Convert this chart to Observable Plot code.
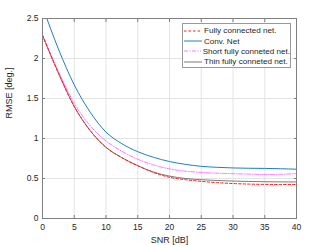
<!DOCTYPE html>
<html><head><meta charset="utf-8">
<script src="https://cdn.jsdelivr.net/npm/d3@7"></script>
<script src="https://cdn.jsdelivr.net/npm/@observablehq/plot@0.6"></script>
<style>
body{margin:0;background:#fff;font-family:"Liberation Sans",Arial,sans-serif;}
#wrap{position:relative;width:327px;height:245px;}
#legend{position:absolute;left:182px;top:23px;width:109px;height:45px;border:0.8px solid #999;background:#fff;font-size:8.1px;color:#262626;box-sizing:border-box;padding-top:1.5px;}
#legend .row{display:flex;align-items:center;height:10.4px;white-space:nowrap;}
#legend svg{margin-left:1px;margin-right:2px;}
</style></head>
<body><div id="wrap"><div id="chart"></div><div id="legend"></div></div>
<script>
const snr = [0, 2.5, 5, 7.5, 10, 12.5, 15, 17.5, 20, 22.5, 25, 27.5, 30, 32.5, 35, 37.5, 40];
const fullyConnected = [2.29, 1.82, 1.40, 1.10, 0.89, 0.76, 0.66, 0.575, 0.515, 0.485, 0.464, 0.448, 0.437, 0.43, 0.426, 0.425, 0.425];
const convNet        = [2.65, 2.12, 1.67, 1.33, 1.08, 0.935, 0.835, 0.765, 0.712, 0.677, 0.652, 0.64, 0.632, 0.628, 0.626, 0.622, 0.616];
const shortFully     = [2.29, 1.84, 1.44, 1.16, 0.97, 0.84, 0.74, 0.67, 0.62, 0.592, 0.576, 0.566, 0.56, 0.555, 0.55, 0.553, 0.562];
const thinFully      = [2.29, 1.82, 1.40, 1.10, 0.89, 0.76, 0.66, 0.58, 0.53, 0.50, 0.485, 0.475, 0.468, 0.463, 0.46, 0.458, 0.457];
const seriesNames = ["Fully connected net.", "Conv. Net", "Short fully conneted net.", "Thin fully conneted net."];
const xTicks = [0, 5, 10, 15, 20, 25, 30, 35, 40];
const yTicks = [0, 0.5, 1, 1.5, 2, 2.5];

const styles = [
  {stroke: "#ff1a1a", dash: "2.5,2", width: 1},
  {stroke: "#1f7fc4", dash: null, width: 1},
  {stroke: "#ff66ff", dash: "4,1.5,1,1.5", width: 0.9},
  {stroke: "#444444", dash: null, width: 0.7}
];
const allSeries = [fullyConnected, convNet, shortFully, thinFully];
const rows = [];
allSeries.forEach((vals, si) => vals.forEach((v, i) => rows.push({snr: snr[i], v, s: si})));

const lineMarks = [3, 2, 1, 0].map(si => Plot.line(rows.filter(d => d.s === si), {
  x: "snr", y: "v", stroke: styles[si].stroke, strokeWidth: styles[si].width,
  strokeDasharray: styles[si].dash, curve: "monotone-x", clip: true
}));

const chart = Plot.plot({
  width: 327, height: 245,
  marginLeft: 42, marginRight: 31, marginTop: 18, marginBottom: 27,
  style: {fontFamily: "Liberation Sans, Arial, sans-serif", fontSize: "8.5px", color: "#262626", background: "#fff"},
  x: {domain: [0, 40], ticks: xTicks},
  y: {domain: [0, 2.5], ticks: yTicks},
  marks: [
    Plot.gridX(xTicks, {stroke: "#e3e3e3", strokeOpacity: 1}),
    Plot.gridY(yTicks, {stroke: "#e3e3e3", strokeOpacity: 1}),
    ...lineMarks,
    Plot.frame({stroke: "#808080", strokeWidth: 1}),
    Plot.axisX(xTicks, {anchor: "bottom", tickSize: -3, tickPadding: 8, stroke: "#808080", tickFormat: d => String(d), label: null}),
    Plot.axisX(xTicks, {anchor: "top", tickSize: -3, stroke: "#808080", tickFormat: () => "", label: null}),
    Plot.axisY(yTicks, {anchor: "left", tickSize: -3, tickPadding: 7, stroke: "#808080", tickFormat: d => String(d), label: null}),
    Plot.axisY(yTicks, {anchor: "right", tickSize: -3, stroke: "#808080", tickFormat: () => "", label: null}),
    Plot.text(["SNR [dB]"], {frameAnchor: "bottom", dy: 24, fill: "#262626", fontSize: 9}),
    Plot.text(["RMSE [deg.]"], {frameAnchor: "left", dx: -33, rotate: -90, fill: "#262626", fontSize: 9})
  ]
});
document.getElementById("chart").appendChild(chart);

const leg = document.getElementById("legend");
seriesNames.forEach((name, i) => {
  const st = styles[i];
  const row = document.createElement("div");
  row.className = "row";
  row.innerHTML = `<svg width="18" height="4"><line x1="0" y1="2" x2="18" y2="2" stroke="${st.stroke}" stroke-width="${st.width}" ${st.dash ? `stroke-dasharray="${st.dash}"` : ""}/></svg><span>${name}</span>`;
  leg.appendChild(row);
});
</script></body></html>
